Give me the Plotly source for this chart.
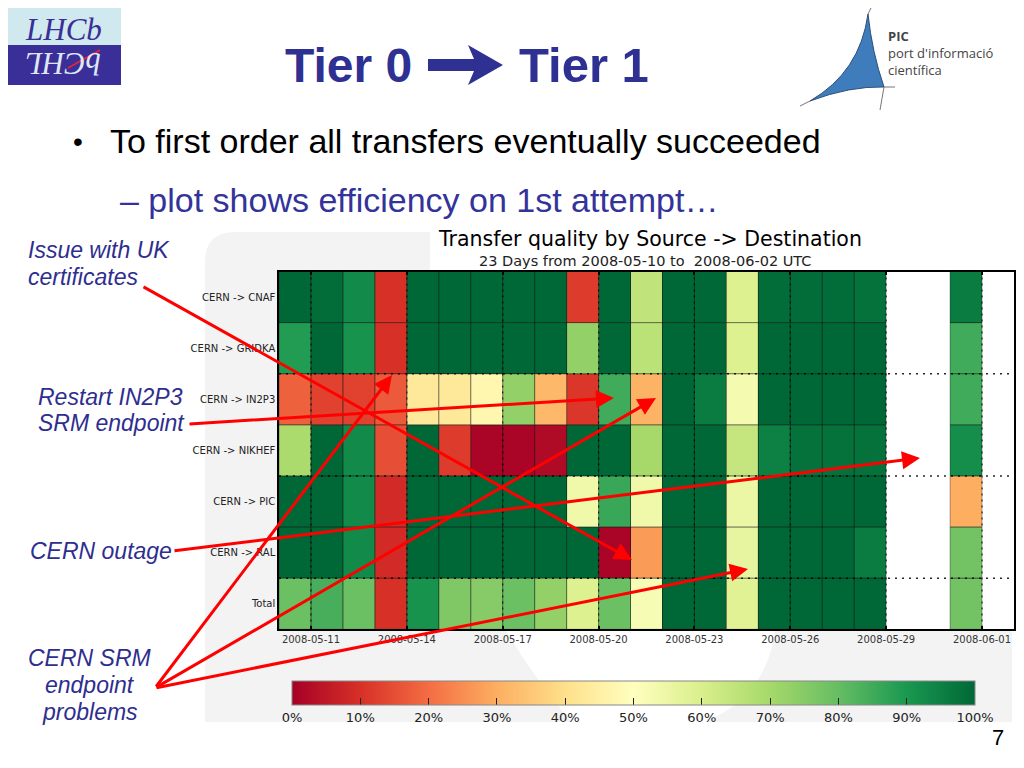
import plotly.graph_objects as go
import pandas as pd

# the page shows the figure with an 8px body margin, so the figure is sized to fit
# inside the visible window and slide pixel positions are shifted by that margin
OFF = 8
W, H = 1008, 752

# ---------------- data ----------------
rows = ["CERN -> CNAF", "CERN -> GRIDKA", "CERN -> IN2P3", "CERN -> NIKHEF",
        "CERN -> PIC", "CERN -> RAL", "Total"]
days = ["2008-05-10", "2008-05-11", "2008-05-12", "2008-05-13", "2008-05-14",
        "2008-05-15", "2008-05-16", "2008-05-17", "2008-05-18", "2008-05-19",
        "2008-05-20", "2008-05-21", "2008-05-22", "2008-05-23", "2008-05-24",
        "2008-05-25", "2008-05-26", "2008-05-27", "2008-05-28", "2008-05-29",
        "2008-05-30", "2008-05-31", "2008-06-01"]
N = None
cnaf   = [100, 99, 93, 10, 100, 100, 100, 100, 100, 12, 100, 65, 100, 100, 59, 99, 99, 99, 98, N, N, 96, N]
gridka = [89, 100, 91, 10, 100, 100, 100, 100, 100, 73, 100, 66, 100, 100, 59, 100, 100, 100, 100, N, N, 85, N]
in2p3  = [18, 13, 13, 17, 43, 43, 47, 73, 32, 11, 85, 31, 100, 96, 53, 100, 100, 100, 100, N, N, 85, N]
nikhef = [69, 100, 93, 15, 100, 12, 1, 1, 2, 100, 100, 70, 100, 100, 64, 95, 98, 98, 98, N, N, 92, N]
pic    = [100, 100, 93, 9, 100, 100, 100, 100, 100, 54, 86, 54, 100, 100, 55, 100, 100, 100, 100, N, N, 30, N]
ral    = [100, 100, 93, 9, 100, 100, 100, 100, 100, 100, 1, 27, 100, 100, 56, 100, 100, 100, 96, N, N, 78, N]
total  = [79, 84, 79, 10, 91, 76, 75, 79, 73, 59, 79, 52, 100, 100, 58, 100, 100, 100, 100, N, N, 78, N]
tick_days = ["2008-05-11", "2008-05-14", "2008-05-17", "2008-05-20",
             "2008-05-23", "2008-05-26", "2008-05-29", "2008-06-01"]
cbar_ticks = [0, 10, 20, 30, 40, 50, 60, 70, 80, 90, 100]
cbar_labels = ["0%", "10%", "20%", "30%", "40%", "50%", "60%", "70%", "80%", "90%", "100%"]

z = [cnaf, gridka, in2p3, nikhef, pic, ral, total]

# ---------------- helpers ----------------
def px(x):
    return (x - OFF) / W

def py(y):
    return 1 - (y - OFF) / H

def path(points_cmds):
    out = []
    for item in points_cmds:
        if isinstance(item, str):
            out.append(item)
        else:
            out.append(f"{px(item[0]):.5f},{py(item[1]):.5f}")
    return " ".join(out)

rdylgn = [[0.0, "rgb(165,0,38)"], [0.1, "rgb(215,48,39)"], [0.2, "rgb(244,109,67)"],
          [0.3, "rgb(253,174,97)"], [0.4, "rgb(254,224,139)"], [0.5, "rgb(255,255,191)"],
          [0.6, "rgb(217,239,139)"], [0.7, "rgb(166,217,106)"], [0.8, "rgb(102,189,99)"],
          [0.9, "rgb(26,152,80)"], [1.0, "rgb(0,104,55)"]]

day_ts = [pd.Timestamp(d) for d in days]
x_centers = [(t + pd.Timedelta(hours=12)).strftime("%Y-%m-%d %H:%M") for t in day_ts]
x_start = day_ts[0].strftime("%Y-%m-%d")
x_end = (day_ts[-1] + pd.Timedelta(days=1)).strftime("%Y-%m-%d")

PLOT_L, PLOT_R, PLOT_T, PLOT_B = 279, 1014, 271.5, 629.3

fig = go.Figure()
fig.add_trace(go.Heatmap(
    x=x_centers, y=list(range(len(rows))), z=z,
    zmin=0, zmax=100, colorscale=rdylgn, hoverongaps=False,
    colorbar=dict(
        orientation="h", x=px((292 + 975) / 2), xanchor="center",
        y=py(681), yanchor="top", len=683, lenmode="pixels", thickness=24,
        xpad=0, ypad=0, outlinecolor="#888", outlinewidth=1,
        tickvals=cbar_ticks, ticktext=cbar_labels, ticks="inside", ticklen=7,
        tickcolor="#222", tickwidth=1,
        tickfont=dict(family="DejaVu Sans", size=13, color="#222"),
    ),
))

shapes = []
# light grey panel (background watermark)
shapes.append(dict(type="path", xref="paper", yref="paper", layer="below",
                   path=path(["M", (205, 722), "L", (205, 262), "Q", (205, 232), (235, 232),
                              "L", (1012, 232), "L", (1012, 722), "Z"]),
                   fillcolor="#f3f3f3", line=dict(width=0)))
# white inner part of the watermark
shapes.append(dict(type="path", xref="paper", yref="paper", layer="below",
                   path=path(["M", (430, 232), "L", (1016, 232), "L", (1016, 271),
                              "L", (430, 271), "Z"]),
                   fillcolor="white", line=dict(width=0)))
shapes.append(dict(type="path", xref="paper", yref="paper", layer="below",
                   path=path(["M", (505, 629), "L", (775, 629), "Q", (768, 695), (705, 722),
                              "L", (572, 722), "Q", (535, 680), (505, 629), "Z"]),
                   fillcolor="white", line=dict(width=0)))
# white plot area
shapes.append(dict(type="rect", xref="paper", yref="paper", layer="below",
                   x0=px(PLOT_L), x1=px(PLOT_R), y0=py(PLOT_B), y1=py(PLOT_T),
                   fillcolor="white", line=dict(width=0)))

# cell edges
for r, row in enumerate(z):
    for c, v in enumerate(row):
        if v is None:
            continue
        shapes.append(dict(type="rect", xref="x", yref="y", layer="above",
                           x0=day_ts[c].strftime("%Y-%m-%d"),
                           x1=(day_ts[c] + pd.Timedelta(days=1)).strftime("%Y-%m-%d"),
                           y0=r - 0.5, y1=r + 0.5, fillcolor="rgba(0,0,0,0)",
                           line=dict(color="rgba(25,25,25,0.45)", width=0.8)))
# dotted grid lines
for d in tick_days:
    shapes.append(dict(type="line", xref="x", yref="y", layer="above",
                       x0=d, x1=d, y0=-0.5, y1=len(rows) - 0.5,
                       line=dict(color="rgba(0,0,0,0.8)", width=1.2, dash="2px,4px")))
for yb in [1.5, 3.5, 5.5]:
    shapes.append(dict(type="line", xref="x", yref="y", layer="above",
                       x0=x_start, x1=x_end, y0=yb, y1=yb,
                       line=dict(color="rgba(0,0,0,0.85)", width=1.5, dash="2px,5px")))

# LHCb logo
shapes.append(dict(type="rect", xref="paper", yref="paper", layer="above",
                   x0=px(8), x1=px(121), y0=py(45), y1=py(8),
                   fillcolor="#cfe9ee", line=dict(width=0)))
shapes.append(dict(type="rect", xref="paper", yref="paper", layer="above",
                   x0=px(8), x1=px(121), y0=py(85), y1=py(45),
                   fillcolor="#3a2e98", line=dict(width=0)))
# PIC logo
shapes.append(dict(type="path", xref="paper", yref="paper", layer="above",
                   path=path(["M", (868, 14), "Q", (860, 72), (810, 101),
                              "Q", (850, 86), (884, 87), "Q", (872, 52), (868, 14), "Z"]),
                   fillcolor="#3f7cbc", line=dict(color="#2c4f78", width=1)))
for (a, b) in [((868, 14), (871, 8)), ((810, 101), (800, 106)),
               ((884, 87), (895, 87)), ((884, 87), (880, 110))]:
    shapes.append(dict(type="line", xref="paper", yref="paper", layer="above",
                       x0=px(a[0]), y0=py(a[1]), x1=px(b[0]), y1=py(b[1]),
                       line=dict(color="#777", width=1)))

# arrow glyph in the slide title
title_col = "#2e3192"
shapes.append(dict(type="path", xref="paper", yref="paper", layer="above",
                   path=path(["M", (428, 59), "L", (474, 59), "L", (468, 45), "L", (503, 65),
                              "L", (468, 85), "L", (474, 71), "L", (428, 71), "Z"]),
                   fillcolor=title_col, line=dict(width=0)))

annotations = []

def txt(text, x, y, size, color, family="Liberation Sans", xanchor="left", **kw):
    annotations.append(dict(text=text, x=px(x), y=py(y), xref="paper", yref="paper",
                            showarrow=False, xanchor=xanchor, yanchor="middle",
                            borderpad=0,
                            font=dict(family=family, size=size, color=color), **kw))

# LHCb logo texts
txt("<i>LHCb</i>", 63, 29, 31, "#3a2e98", family="Liberation Serif", xanchor="center")
txt("<i>bCHL</i>", 63, 64, 31, "#dfe6f5", family="Liberation Serif", xanchor="center",
    textangle=180)

# PIC logo text
txt("<b>PIC</b><br>port d'informació<br>científica", 887, 53, 13, "#444",
    family="Open Sans", align="left")

# slide title and bullets
txt("<b>Tier 0</b>", 413, 65, 48, title_col, xanchor="right")
txt("<b>Tier 1</b>", 518, 65, 49, title_col, xanchor="left")
txt("•", 72, 141, 28, "#000")
txt("To first order all transfers eventually succeeded", 109, 141, 34, "#000")
txt("– plot shows efficiency on 1st attempt…", 119, 200, 34, "#33339a")

# chart title
txt("Transfer quality by Source -> Destination", 650, 239, 20.5, "#000",
    family="DejaVu Sans", xanchor="center")
txt("23 Days from 2008-05-10 to  2008-06-02 UTC", 645, 261, 14.5, "#222",
    family="DejaVu Sans", xanchor="center")

# side notes (one annotation per line)
note_col = "#2e2e8f"
note_lines = [("Issue with UK", 27, 250, "left"), ("certificates", 27, 277, "left"),
              ("Restart IN2P3", 37, 397, "left"), ("SRM endpoint", 37, 423, "left"),
              ("CERN outage", 29, 551, "left"),
              ("CERN SRM", 90, 658, "center"), ("endpoint", 90, 685, "center"),
              ("problems", 90, 712, "center")]
for (t, x, y, anc) in note_lines:
    txt(f"<i>{t}</i>", x, y, 23, note_col, xanchor=anc)

# page number
txt("7", 998, 737, 22, "#000", xanchor="center")

# red arrows (start -> tip, pixel positions on the slide)
arrows = [((142, 286), (632, 560)),
          ((188, 424), (614, 398)),
          ((173, 551), (920, 458)),
          ((155, 688), (392, 375)),
          ((155, 688), (656, 398)),
          ((155, 688), (748, 569))]
for (s, t) in arrows:
    annotations.append(dict(text="", x=px(t[0]), y=py(t[1]), xref="paper", yref="paper",
                            showarrow=True, ax=s[0] - t[0], ay=s[1] - t[1],
                            arrowhead=2, arrowsize=1.2, arrowwidth=3, arrowcolor="#ff0000",
                            standoff=0, startstandoff=0))

# red stroke on LHCb logo
shapes.append(dict(type="line", xref="paper", yref="paper", layer="above",
                   x0=px(68), y0=py(68), x1=px(100), y1=py(50),
                   line=dict(color="#e8282e", width=1.5)))

fig.update_layout(
    width=W, height=H, margin=dict(l=0, r=0, t=0, b=0, pad=0, autoexpand=False),
    paper_bgcolor="white", plot_bgcolor="white",
    showlegend=False, shapes=shapes, annotations=annotations,
    xaxis=dict(type="date", domain=[px(PLOT_L), px(PLOT_R)], range=[x_start, x_end],
               tickvals=tick_days, tickformat="%Y-%m-%d", ticks="inside",
               ticklen=4, tickwidth=2, tickcolor="#000", showgrid=False, zeroline=False,
               showline=True, linecolor="#000", linewidth=1.5, mirror="ticks",
               layer="above traces", automargin=False, ticklabeloverflow="allow",
               tickfont=dict(family="DejaVu Sans", size=10, color="#333")),
    yaxis=dict(domain=[py(PLOT_B), py(PLOT_T)], range=[len(rows) - 0.5, -0.5],
               tickvals=list(range(len(rows))), ticktext=rows, ticks="",
               showgrid=False, zeroline=False, showline=True, linecolor="#000",
               linewidth=1.5, mirror=True, layer="above traces", automargin=False,
               tickfont=dict(family="DejaVu Sans", size=10, color="#222")),
)

fig.write_html("out.html")
